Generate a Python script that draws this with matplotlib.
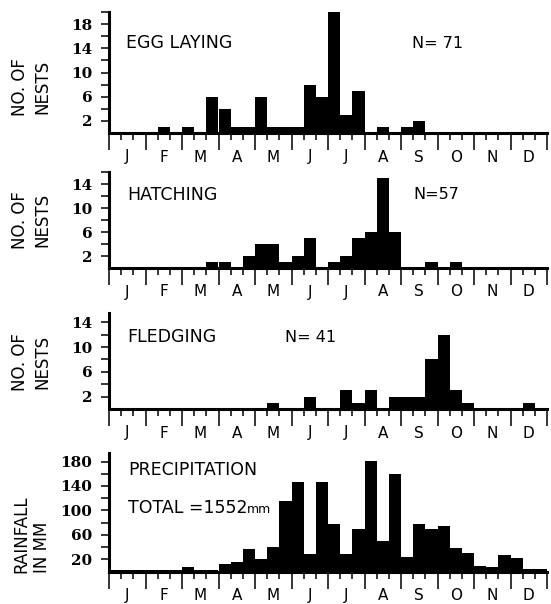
import numpy as np
import matplotlib
matplotlib.use('Agg')
import matplotlib.pyplot as plt

# 10-day periods, 3 per month, 36 in the year
months = ['J', 'F', 'M', 'A', 'M', 'J', 'J', 'A', 'S', 'O', 'N', 'D']

egg_laying = [0, 0, 0, 0, 1, 0, 1, 0, 6, 4, 1, 1, 6, 1, 1, 1, 8, 6,
              20, 3, 7, 0, 1, 0, 1, 2, 0, 0, 0, 0, 0, 0, 0, 0, 0, 0]
hatching = [0, 0, 0, 0, 0, 0, 0, 0, 1, 1, 0, 2, 4, 4, 1, 2, 5, 0,
            1, 2, 5, 6, 15, 6, 0, 0, 1, 0, 1, 0, 0, 0, 0, 0, 0, 0]
fledging = [0, 0, 0, 0, 0, 0, 0, 0, 0, 0, 0, 0, 0, 1, 0, 0, 2, 0,
            0, 3, 1, 3, 0, 2, 2, 2, 8, 12, 3, 1, 0, 0, 0, 0, 1, 0]
rainfall = [2, 2, 2, 2, 2, 2, 8, 2, 2, 12, 16, 37, 20, 40, 115, 147, 29, 147,
            78, 29, 69, 181, 50, 160, 24, 78, 70, 74, 39, 30, 9, 8, 27, 22, 4, 4]

W, H = 551, 604
fig = plt.figure(figsize=(W / 100, H / 100), dpi=100)
plt.rcParams['font.family'] = 'DejaVu Sans'

def fx(px):
    return px / W

def fy(py):
    return 1 - py / H

# (data, baseline px, top px, ylim top, ticks, labelled ticks)
panels = [
    (egg_laying, 133, 12, 20, np.arange(2, 21, 2), [2, 6, 10, 14, 18]),
    (hatching, 268, 172, 16, np.arange(2, 17, 2), [2, 6, 10, 14]),
    (fledging, 409, 313, 15.5, np.arange(2, 15, 2), [2, 6, 10, 14]),
    (rainfall, 571.5, 453, 194, np.arange(20, 181, 20), [20, 60, 100, 140, 180]),
]

x0, x1 = 109, 547
for vals, base, top, ymax, ticks, lab in panels:
    ax = fig.add_axes([fx(x0), fy(base), fx(x1 - x0), (base - top) / H])
    ax.bar(np.arange(36), vals, width=1, align='edge', color='black', linewidth=0)
    ax.set_xlim(0, 36)
    ax.set_ylim(0, ymax)
    for s in ['top', 'right']:
        ax.spines[s].set_visible(False)
    for s in ['left', 'bottom']:
        ax.spines[s].set_linewidth(2.2)
    ax.set_xticks(np.arange(0, 37, 3))
    ax.set_xticks(np.arange(0, 37), minor=True)
    ax.set_xticklabels([])
    ax.tick_params(axis='x', which='major', direction='out', length=12, width=1.1)
    ax.tick_params(axis='x', which='minor', direction='out', length=5, width=1.1)
    ax.set_yticks(ticks)
    ax.set_yticklabels([str(t) if t in lab else '' for t in ticks],
                       fontfamily='DejaVu Serif', fontweight='bold', fontsize=11)
    ax.tick_params(axis='y', direction='out', length=6, width=1.1, pad=6)
    for i, m in enumerate(months):
        ax.text(3 * i + 1.5, -24 / (base - top), m, ha='center', va='center',
                fontsize=11, transform=ax.get_xaxis_transform())

# panel texts
fig.text(fx(126), fy(43), 'EGG LAYING', fontsize=12.5, va='center')
fig.text(fx(412), fy(43), 'N= 71', fontsize=11.5, va='center')
fig.text(fx(127), fy(195), 'HATCHING', fontsize=12.5, va='center')
fig.text(fx(413), fy(195), 'N=57', fontsize=11.5, va='center')
fig.text(fx(127), fy(337), 'FLEDGING', fontsize=12.5, va='center')
fig.text(fx(285), fy(337), 'N= 41', fontsize=11.5, va='center')
fig.text(fx(128), fy(470), 'PRECIPITATION', fontsize=12.5, va='center')
fig.text(fx(128), fy(513), 'TOTAL =1552', fontsize=12.5, va='baseline')
fig.text(fx(247), fy(513), 'mm', fontsize=9, va='baseline')

# y labels
for yc in [87, 220, 362]:
    fig.text(fx(20), fy(yc), 'NO. OF', rotation=90, fontsize=12, ha='center', va='center')
    fig.text(fx(42), fy(yc), 'NESTS', rotation=90, fontsize=12, ha='center', va='center')
fig.text(fx(21), fy(573), 'RAINFALL', rotation=90, fontsize=12, ha='center', va='bottom')
fig.text(fx(42), fy(573), 'IN MM', rotation=90, fontsize=12, ha='center', va='bottom')

fig.savefig('out.png', dpi=100)
